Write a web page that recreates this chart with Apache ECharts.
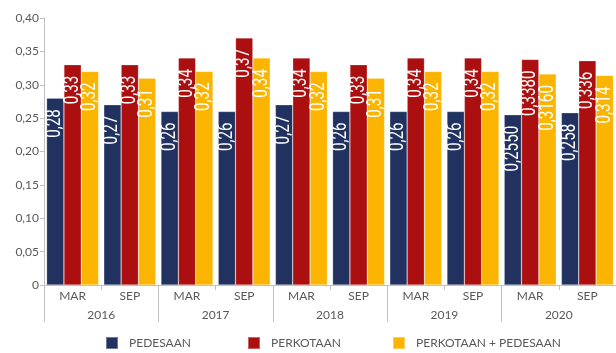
<!DOCTYPE html>
<html>
<head>
<meta charset="utf-8">
<script src="https://cdn.jsdelivr.net/npm/echarts@6/dist/echarts.min.js"></script>
<style>
  html, body { margin: 0; padding: 0; background: #fff; }
  #chart { width: 616px; height: 353px; }
</style>
</head>
<body>
<div id="chart"></div>
<script>
// Survey periods and years
var periods = ['MAR', 'SEP', 'MAR', 'SEP', 'MAR', 'SEP', 'MAR', 'SEP', 'MAR', 'SEP'];
var years = ['2016', '2017', '2018', '2019', '2020'];

// Index values per area type
var pedesaan = [0.28, 0.27, 0.26, 0.26, 0.27, 0.26, 0.26, 0.26, 0.255, 0.258];
var perkotaan = [0.33, 0.33, 0.34, 0.37, 0.34, 0.33, 0.34, 0.34, 0.338, 0.336];
var gabungan = [0.32, 0.31, 0.32, 0.34, 0.32, 0.31, 0.32, 0.32, 0.316, 0.314];

// Decimal places shown in each period's value label
var labelDecimals = [2, 2, 2, 2, 2, 2, 2, 2, 4, 3];

// Y axis ticks
var yMin = 0, yMax = 0.40, yStep = 0.05;

var seriesNames = ['PEDESAAN', 'PERKOTAAN', 'PERKOTAAN + PEDESAAN'];
var seriesColors = ['#213261', '#AC0F0F', '#FBB501'];
var seriesData = [pedesaan, perkotaan, gabungan];
var legendLefts = [105, 247, 392];

var textGrey = '#595959';
var lineGrey = '#bfbfbf';
var uiFont = 'Lato';

// Squeeze applied to the value labels along their reading direction
var labelSqueeze = 0.76;

function fmtComma(v, d) {
  return v.toFixed(d).replace('.', ',');
}

var chart = echarts.init(document.getElementById('chart'), null, { renderer: 'canvas' });

var series = seriesNames.map(function (name, i) {
  return {
    name: name,
    type: 'bar',
    xAxisIndex: 0,
    barGap: '0%',
    barCategoryGap: '9%',
    itemStyle: {
      color: seriesColors[i],
      borderColor: 'rgba(255,255,255,0.35)',
      borderWidth: 0.6
    },
    label: {
      show: true,
      position: 'insideTop',
      rotate: 90,
      align: 'right',
      verticalAlign: 'middle',
      distance: 11,
      color: '#ffffff',
      fontFamily: 'Roboto, sans-serif',
      fontSize: 20,
      formatter: function (p) {
        return fmtComma(p.value, labelDecimals[p.dataIndex]);
      }
    },
    data: seriesData[i]
  };
});

// One legend entry per series, spaced like the original key
var legends = seriesNames.map(function (name, i) {
  return {
    bottom: 3,
    left: legendLefts[i],
    padding: 0,
    itemWidth: 12,
    itemHeight: 12,
    icon: 'rect',
    formatter: '{t|{name}}',
    textStyle: {
      color: textGrey, fontSize: 12, fontFamily: uiFont,
      rich: { t: { color: textGrey, fontSize: 12, fontFamily: uiFont, padding: [0, 0, 0, 6] } }
    },
    data: [name]
  };
});

chart.setOption({
  animation: false,
  textStyle: { fontFamily: uiFont },
  grid: { left: 44, right: 0, top: 18, bottom: 68, containLabel: false },
  legend: legends,
  xAxis: [
    {
      type: 'category',
      data: periods,
      position: 'bottom',
      axisLine: { show: true, lineStyle: { color: lineGrey, width: 1 } },
      axisTick: { show: true, length: 5, lineStyle: { color: lineGrey } },
      axisLabel: { color: textGrey, fontSize: 12, fontFamily: uiFont, margin: 5, interval: 0 }
    },
    {
      type: 'category',
      data: years,
      position: 'bottom',
      offset: 0,
      axisLine: { show: false },
      axisTick: { show: true, length: 37, lineStyle: { color: lineGrey } },
      axisLabel: { color: textGrey, fontSize: 12, fontFamily: uiFont, margin: 24, interval: 0 }
    }
  ],
  yAxis: {
    type: 'value',
    min: yMin,
    max: yMax,
    interval: yStep,
    splitLine: { show: false },
    axisLine: { show: true, lineStyle: { color: lineGrey, width: 1 } },
    axisTick: { show: true, length: 4, lineStyle: { color: lineGrey } },
    axisLabel: {
      color: textGrey,
      fontSize: 12,
      fontFamily: uiFont,
      margin: 5,
      formatter: function (v) {
        return v === 0 ? '0' : fmtComma(v, 2);
      }
    }
  },
  series: series
});

// Condense the bar value labels along their reading direction
function squeezeLabels(factor) {
  var zr = chart.getZr();
  function walk(el) {
    var t = el.getTextContent && el.getTextContent();
    if (t) {
      t.scaleX = factor;
      if (t.innerTransformable) t.innerTransformable.scaleX = factor;
      t.markRedraw();
    }
    if (el.isGroup) el.eachChild(walk);
  }
  zr.storage.getRoots().forEach(walk);
  zr.refreshImmediately();
}
squeezeLabels(labelSqueeze);
</script>
</body>
</html>
